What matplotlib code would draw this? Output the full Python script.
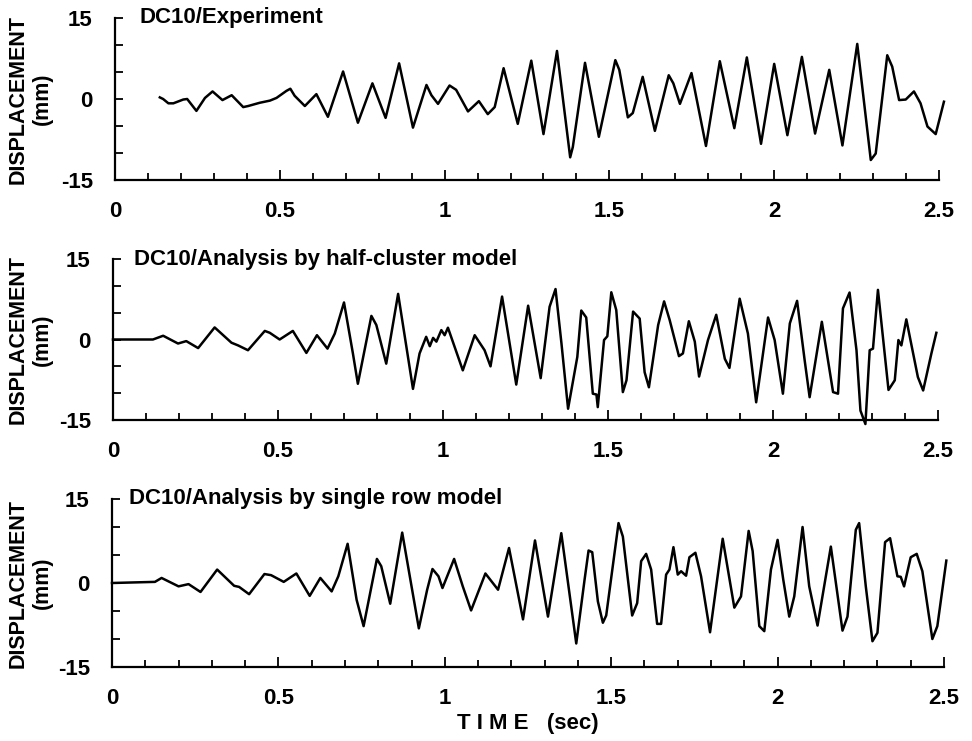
import numpy as np
import matplotlib.pyplot as plt
from matplotlib.ticker import MultipleLocator

plt.rcParams['font.family'] = ['Liberation Sans', 'DejaVu Sans']
plt.rcParams['font.weight'] = 'bold'

# values (peaks, troughs and kinks)
t_exp = [0.136, 0.146, 0.162, 0.177, 0.207, 0.219, 0.247, 0.273, 0.296, 0.326,
         0.354, 0.389, 0.404, 0.439, 0.470, 0.490, 0.520, 0.532, 0.545, 0.576,
         0.611, 0.646, 0.692, 0.737, 0.781, 0.821, 0.862, 0.904, 0.945, 0.960,
         0.980, 1.015, 1.035, 1.071, 1.104, 1.131, 1.152, 1.179, 1.222, 1.263,
         1.300, 1.341, 1.381, 1.389, 1.426, 1.468, 1.518, 1.530, 1.556, 1.571,
         1.601, 1.638, 1.680, 1.694, 1.714, 1.722, 1.749, 1.793, 1.835, 1.879,
         1.917, 1.960, 2.000, 2.040, 2.084, 2.124, 2.167, 2.207, 2.252, 2.293,
         2.308, 2.343, 2.358, 2.379, 2.399, 2.424, 2.444, 2.465, 2.490, 2.515]
d_exp = [0.3, 0.0, -0.8, -0.8, -0.1, 0.0, -2.2, 0.2, 1.4, -0.2,
         0.7, -1.5, -1.3, -0.7, -0.3, 0.2, 1.5, 1.9, 0.6, -1.3,
         0.9, -3.3, 5.1, -4.4, 2.9, -3.5, 6.6, -5.3, 2.6, 0.7,
         -0.9, 2.5, 1.7, -2.3, -0.4, -2.8, -1.5, 5.7, -4.6, 7.1,
         -6.5, 8.9, -10.8, -8.9, 6.7, -7.0, 7.2, 5.4, -3.4, -2.6,
         4.1, -5.9, 4.4, 2.9, -0.9, 0.4, 4.8, -8.7, 7.0, -5.4,
         7.7, -8.3, 6.5, -6.7, 7.8, -6.4, 5.4, -8.6, 10.2, -11.3,
         -10.1, 8.1, 6.0, -0.2, -0.1, 1.4, -0.8, -5.1, -6.5, -0.5]

t_half = [0.000, 0.121, 0.152, 0.197, 0.222, 0.258, 0.308, 0.359, 0.379, 0.409,
          0.460, 0.475, 0.505, 0.545, 0.586, 0.618, 0.650, 0.672, 0.700, 0.727,
          0.742, 0.783, 0.798, 0.828, 0.864, 0.909, 0.929, 0.949, 0.960, 0.970,
          0.980, 0.995, 1.005, 1.015, 1.060, 1.096, 1.126, 1.144, 1.179, 1.222,
          1.258, 1.296, 1.323, 1.341, 1.359, 1.379, 1.407, 1.419, 1.434, 1.454,
          1.465, 1.469, 1.488, 1.498, 1.510, 1.525, 1.545, 1.556, 1.576, 1.596,
          1.611, 1.624, 1.652, 1.670, 1.687, 1.715, 1.727, 1.745, 1.763, 1.776,
          1.803, 1.828, 1.854, 1.868, 1.899, 1.924, 1.949, 1.985, 2.005, 2.030,
          2.051, 2.073, 2.096, 2.111, 2.148, 2.182, 2.197, 2.212, 2.232, 2.253,
          2.265, 2.280, 2.293, 2.303, 2.318, 2.350, 2.369, 2.380, 2.389, 2.404,
          2.439, 2.455, 2.480, 2.495]
d_half = [0.0, 0.0, 0.7, -0.75, -0.3, -1.6, 2.25, -0.6, -1.1, -2.0,
          1.6, 1.25, 0.0, 1.6, -2.5, 0.8, -1.7, 1.1, 6.9, -2.6,
          -8.25, 4.4, 2.7, -4.5, 8.5, -9.2, -2.6, 0.5, -1.25, 0.3,
          -0.4, 1.75, 0.8, 2.2, -5.75, 0.8, -2.0, -5.0, 8.0, -8.4,
          6.3, -7.2, 6.1, 9.4, -0.75, -12.9, -3.25, 5.4, 4.1, -10.1,
          -10.25, -12.6, -0.1, 0.6, 8.8, 5.5, -9.8, -7.6, 5.2, 3.9,
          -6.1, -8.9, 2.7, 7.1, 3.6, -3.1, -2.6, 3.4, -0.4, -6.9,
          -0.1, 4.6, -3.6, -5.3, 7.6, 1.1, -11.7, 4.1, -0.1, -10.1,
          3.0, 7.2, -3.9, -10.75, 3.3, -9.8, -10.1, 5.8, 8.75, -2.0,
          -13.25, -15.75, -2.0, -1.7, 9.25, -9.4, -7.6, -0.1, -1.1, 3.75,
          -7.0, -9.5, -2.6, 1.25]

t_single = [0.000, 0.129, 0.149, 0.200, 0.230, 0.266, 0.316, 0.367, 0.382, 0.412,
            0.458, 0.478, 0.516, 0.554, 0.594, 0.626, 0.660, 0.680, 0.708, 0.735,
            0.756, 0.796, 0.809, 0.836, 0.872, 0.922, 0.947, 0.963, 0.981, 0.993,
            1.028, 1.054, 1.079, 1.122, 1.160, 1.193, 1.235, 1.271, 1.310, 1.350,
            1.395, 1.420, 1.432, 1.443, 1.460, 1.475, 1.485, 1.522, 1.535, 1.563,
            1.578, 1.590, 1.605, 1.620, 1.638, 1.650, 1.665, 1.675, 1.687, 1.700,
            1.710, 1.725, 1.735, 1.753, 1.770, 1.797, 1.835, 1.870, 1.890, 1.913,
            1.925, 1.945, 1.960, 1.980, 2.000, 2.017, 2.035, 2.050, 2.075, 2.095,
            2.120, 2.160, 2.195, 2.210, 2.235, 2.245, 2.265, 2.285, 2.300, 2.323,
            2.338, 2.360, 2.370, 2.380, 2.400, 2.418, 2.435, 2.465, 2.480, 2.507]
d_single = [0.0, 0.2, 0.9, -0.6, -0.2, -1.6, 2.4, -0.5, -0.7, -2.0,
            1.6, 1.4, 0.2, 1.7, -2.3, 0.9, -1.5, 1.2, 7.0, -3.0,
            -7.7, 4.3, 3.0, -3.7, 9.0, -8.1, -1.2, 2.5, 1.2, -0.9,
            4.3, -0.6, -4.9, 1.7, -1.2, 6.25, -6.5, 7.6, -6.0, 8.9,
            -10.8, 0.6, 5.8, 5.5, -3.3, -7.1, -5.8, 10.7, 8.3, -5.8,
            -3.6, 3.9, 5.2, 2.4, -7.3, -7.3, 1.5, 2.4, 6.4, 1.5,
            2.1, 1.3, 4.6, 5.4, 1.2, -8.8, 7.9, -4.4, -2.4, 9.3,
            5.7, -7.7, -8.6, 2.4, 7.7, 0.6, -6.0, -2.4, 10.0, -0.6,
            -7.6, 6.5, -8.5, -6.0, 9.5, 10.7, -0.6, -10.4, -8.9, 7.3,
            8.0, 1.2, 1.1, -0.6, 4.6, 5.2, 2.1, -10.0, -7.7, 4.0]

titles = ['DC10/Experiment',
          'DC10/Analysis by half-cluster model',
          'DC10/Analysis by single row model']
series = [(t_exp, d_exp), (t_half, d_half), (t_single, d_single)]
x_ticks = [0, 0.5, 1, 1.5, 2, 2.5]
x_ticklabels = ['0', '0.5', '1', '1.5', '2', '2.5']
y_ticks = [-15, 0, 15]

W, H = 972, 741
fig = plt.figure(figsize=(W / 100, H / 100), dpi=100)

# axes boxes in pixels: left, right, top, bottom
boxes = [(115, 939, 18, 180), (113, 938, 259, 420), (112, 944, 499, 667)]
title_x = [0.03, 0.025, 0.02]

for i, ((t, d), (l, r, tp, b)) in enumerate(zip(series, boxes)):
    ax = fig.add_axes([l / W, 1 - b / H, (r - l) / W, (b - tp) / H])
    ax.plot(t, d, color='black', lw=1.8, solid_joinstyle='round', clip_on=False)
    ax.set_xlim(0, 2.5)
    ax.set_ylim(-15, 15)
    for s in ['top', 'right']:
        ax.spines[s].set_visible(False)
    for s in ['left', 'bottom']:
        ax.spines[s].set_linewidth(1.6)
    ax.set_xticks(x_ticks)
    ax.set_xticklabels(x_ticklabels)
    ax.xaxis.set_minor_locator(MultipleLocator(0.1))
    ax.set_yticks(y_ticks)
    ax.set_yticklabels([str(v) for v in y_ticks])
    ax.yaxis.set_minor_locator(MultipleLocator(5))
    ax.tick_params(which='both', direction='in', width=1.3, labelsize=16)
    ax.tick_params(axis='x', which='major', length=7, pad=15)
    ax.tick_params(axis='x', which='minor', length=5)
    ax.tick_params(axis='y', which='both', length=6, pad=16)
    ax.text(title_x[i], 1.0, titles[i], transform=ax.transAxes, fontsize=16,
            fontweight='bold', ha='left', va='center')
    fig.text(0.031, 1 - (tp + b) / 2 / H, 'DISPLACEMENT\n(mm)', rotation=90,
             ha='center', va='center', multialignment='center', fontsize=15.5,
             fontweight='bold', linespacing=1.2)
    if i == 2:
        ax.set_xlabel('T I M E   (sec)', fontsize=16, fontweight='bold',
                      labelpad=3)

fig.savefig('out.png', dpi=100)
